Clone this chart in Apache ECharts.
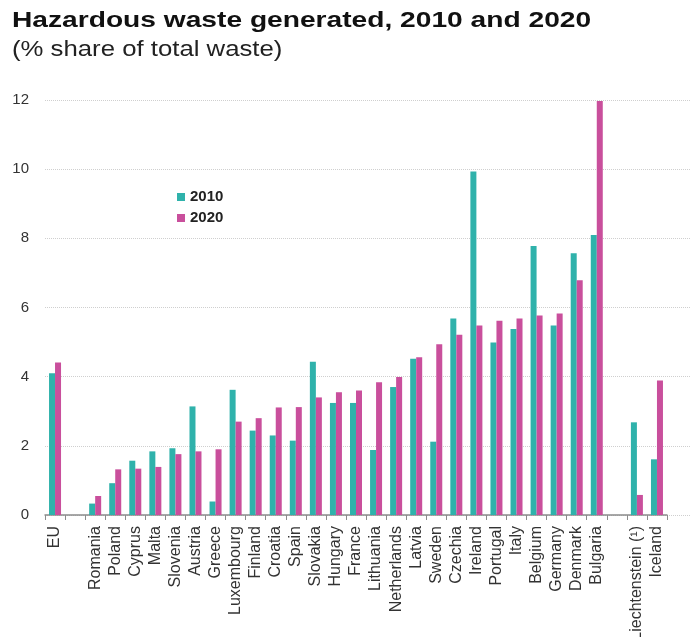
<!DOCTYPE html>
<html>
<head>
<meta charset="utf-8">
<script src="https://cdn.jsdelivr.net/npm/echarts@6/dist/echarts.min.js"></script>
<style>
  html, body { margin: 0; padding: 0; background: #fff; }
  #chart { width: 694px; height: 637px; }
</style>
</head>
<body>
<div id="chart"></div>
<script>
// Share of hazardous waste in total waste generated (%), by country.
// Empty category names leave spacer slots between the groups.
const categories = [
  'EU', '',
  'Romania', 'Poland', 'Cyprus', 'Malta', 'Slovenia', 'Austria', 'Greece',
  'Luxembourg', 'Finland', 'Croatia', 'Spain', 'Slovakia', 'Hungary', 'France',
  'Lithuania', 'Netherlands', 'Latvia', 'Sweden', 'Czechia', 'Ireland',
  'Portugal', 'Italy', 'Belgium', 'Germany', 'Denmark', 'Bulgaria', '',
  'Liechtenstein (¹)', 'Iceland'
];

const values2010 = [
  4.10, null,
  0.33, 0.92, 1.57, 1.84, 1.93, 3.14, 0.39,
  3.62, 2.44, 2.30, 2.15, 4.43, 3.24, 3.24,
  1.88, 3.70, 4.52, 2.12, 5.68, 9.93,
  4.99, 5.38, 7.78, 5.48, 7.57, 8.10, null,
  2.68, 1.61
];

const values2020 = [
  4.41, null,
  0.55, 1.32, 1.34, 1.39, 1.76, 1.84, 1.90,
  2.70, 2.80, 3.11, 3.12, 3.40, 3.55, 3.60,
  3.84, 3.99, 4.56, 4.94, 5.21, 5.48,
  5.62, 5.68, 5.77, 5.83, 6.79, 11.97, null,
  0.58, 3.89
];

const seriesNames = ['2010', '2020'];
const yTicks = { min: 0, max: 12, interval: 2 };

const FONT = '"Liberation Sans", Arial, sans-serif';
const TEAL = '#2FB2AB';
const MAGENTA = '#C94F9C';

const chart = echarts.init(document.getElementById('chart'), null, { renderer: 'canvas' });

chart.setOption({
  animation: false,
  backgroundColor: '#ffffff',
  textStyle: { fontFamily: FONT },
  graphic: [
    {
      type: 'text', x: 12, y: 10, scaleX: 1.28,
      style: {
        text: 'Hazardous waste generated, 2010 and 2020',
        font: 'bold 22px ' + FONT, fill: '#111', verticalAlign: 'top'
      }
    },
    {
      type: 'text', x: 12, y: 39, scaleX: 1.17,
      style: {
        text: '(% share of total waste)',
        font: '22px ' + FONT, fill: '#222', verticalAlign: 'top'
      }
    }
  ],
  legend: {
    data: seriesNames,
    orient: 'vertical',
    left: 177,
    top: 189,
    padding: 0,
    itemWidth: 8,
    itemHeight: 8,
    itemGap: 5,
    icon: 'rect',
    textStyle: { fontFamily: FONT, fontSize: 15, fontWeight: 'bold', color: '#222', lineHeight: 16 }
  },
  grid: [
    { left: 45, right: 27, top: 100, bottom: 122, containLabel: false, outerBoundsMode: 'none' },
    { left: 45, right: 4, top: 100, bottom: 122, containLabel: false, outerBoundsMode: 'none' }
  ],
  xAxis: [
    {
      type: 'category',
      gridIndex: 0,
      data: categories,
      boundaryGap: true,
      axisLine: { show: true, lineStyle: { color: '#8c8c8c', width: 1.5 } },
      axisTick: { show: true, length: 5, lineStyle: { color: '#8c8c8c' } },
      axisLabel: {
        interval: 0, rotate: 90, margin: 11,
        fontFamily: FONT, fontSize: 16, color: '#333'
      }
    },
    { type: 'category', gridIndex: 1, data: categories, show: false }
  ],
  yAxis: [
    {
      type: 'value', gridIndex: 0,
      min: yTicks.min, max: yTicks.max, interval: yTicks.interval,
      axisLine: { show: false }, axisTick: { show: false },
      splitLine: { show: false },
      axisLabel: { margin: 16, fontFamily: FONT, fontSize: 15, color: '#333' }
    },
    {
      type: 'value', gridIndex: 1,
      min: yTicks.min, max: yTicks.max, interval: yTicks.interval,
      axisLine: { show: false }, axisTick: { show: false }, axisLabel: { show: false },
      splitLine: { show: true, lineStyle: { color: '#cfcfcf', type: 'dotted', width: 1 } }
    }
  ],
  series: [
    {
      name: seriesNames[0], type: 'bar', xAxisIndex: 0, yAxisIndex: 0,
      data: values2010, barWidth: 6, barGap: '0%',
      itemStyle: { color: TEAL }, z: 3
    },
    {
      name: seriesNames[1], type: 'bar', xAxisIndex: 0, yAxisIndex: 0,
      data: values2020, barWidth: 6, barGap: '0%',
      itemStyle: { color: MAGENTA }, z: 3
    }
  ]
});
</script>
</body>
</html>
